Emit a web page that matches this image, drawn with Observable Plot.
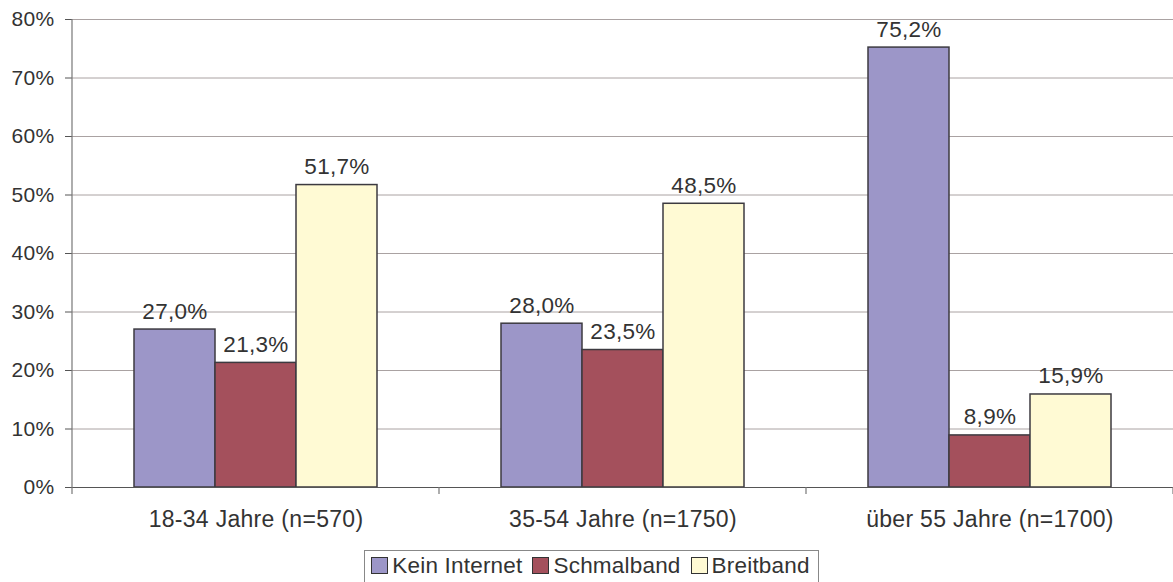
<!DOCTYPE html>
<html>
<head>
<meta charset="utf-8">
<script src="https://cdn.jsdelivr.net/npm/d3@7"></script>
<script src="https://cdn.jsdelivr.net/npm/@observablehq/plot@0.6"></script>
<style>
  html, body { margin: 0; padding: 0; background: #fff; }
  body { font-family: "Liberation Sans", Arial, sans-serif; color: #333; width: 1173px; }
  #legend { display: flex; justify-content: center; margin-top: 10px; padding-left: 10px; }
  #legend .box { display: inline-flex; align-items: center; border: 1px solid #888; padding: 1px 8px 3px 6px; font-size: 22.5px; color: #333; height: 27px; letter-spacing: 0.2px; }
  #legend .item { display: inline-flex; align-items: center; margin-right: 10px; }
  #legend .item:last-child { margin-right: 0; }
  #legend .sw { width: 15px; height: 15px; border: 1px solid #333; margin-right: 4px; }
</style>
</head>
<body>
<div id="chart"></div>
<div id="legend"></div>
<script>
const categories = ["18-34 Jahre (n=570)", "35-54 Jahre (n=1750)", "über 55 Jahre (n=1700)"];
const series = ["Kein Internet", "Schmalband", "Breitband"];
const keinInternet = [27.0, 28.0, 75.2];
const schmalband = [21.3, 23.5, 8.9];
const breitband = [51.7, 48.5, 15.9];
const yTicks = [0, 10, 20, 30, 40, 50, 60, 70, 80];
const colors = ["#9c96c8", "#a4505c", "#fffad4"];

const seriesValues = [keinInternet, schmalband, breitband];
const data = [];
categories.forEach((c, i) => {
  series.forEach((s, j) => {
    data.push({cat: c, series: s, value: seriesValues[j][i]});
  });
});

const fmt = v => v.toFixed(1).replace(".", ",") + "%";

const plot = Plot.plot({
  width: 1173,
  height: 540,
  marginLeft: 72,
  marginRight: 0,
  marginTop: 19,
  marginBottom: 53,
  style: {fontFamily: "'Liberation Sans', Arial, sans-serif", fontSize: "23px", color: "#333", background: "#fff", letterSpacing: "0.3px"},
  fx: {domain: categories, padding: 0, label: null, axis: "bottom", tickSize: 0, tickPadding: 23},
  x: {domain: series, axis: null, paddingInner: 0, paddingOuter: 0.745},
  y: {domain: [0, 80], label: null, axis: null},
  color: {domain: series, range: colors},
  marks: [
    Plot.gridY(yTicks, {stroke: "#aaa2a2", strokeOpacity: 1, strokeWidth: 1}),
    Plot.axisY(yTicks, {anchor: "left", tickFormat: d => d + "%", tickSize: 7, tickPadding: 11, stroke: "#555", fill: "#333", fontSize: 21, label: null}),
    Plot.barY(data, {fx: "cat", x: "series", y: "value", fill: "series", stroke: "#3c3a40", strokeWidth: 1.5}),
    Plot.ruleY([0], {stroke: "#555", strokeWidth: 1.2}),
    Plot.text(data, {fx: "cat", x: "series", y: "value", text: d => fmt(d.value), dy: -11, lineAnchor: "bottom", fontSize: 22.5, fill: "#333"})
  ]
});

document.getElementById("chart").appendChild(plot);

// axis line and group boundary ticks drawn from the library's scales
const svg = d3.select(plot);
const ys = plot.scale("y");
const fxs = plot.scale("fx");
const y0 = ys.apply(0), yTop = ys.apply(80);
const left = 72;
svg.append("line").attr("x1", left).attr("x2", left).attr("y1", yTop).attr("y2", y0 + 7)
  .attr("stroke", "#777").attr("stroke-width", 1.2);
const bw = fxs.bandwidth;
categories.forEach(c => {
  const x = fxs.apply(c) + bw;
  svg.append("line").attr("x1", x).attr("x2", x).attr("y1", y0).attr("y2", y0 + 7)
    .attr("stroke", "#777").attr("stroke-width", 1.2);
});

// legend
const leg = d3.select("#legend").append("div").attr("class", "box");
series.forEach((s, i) => {
  const it = leg.append("div").attr("class", "item");
  it.append("div").attr("class", "sw").style("background", colors[i]);
  it.append("span").text(s);
});
</script>
</body>
</html>
